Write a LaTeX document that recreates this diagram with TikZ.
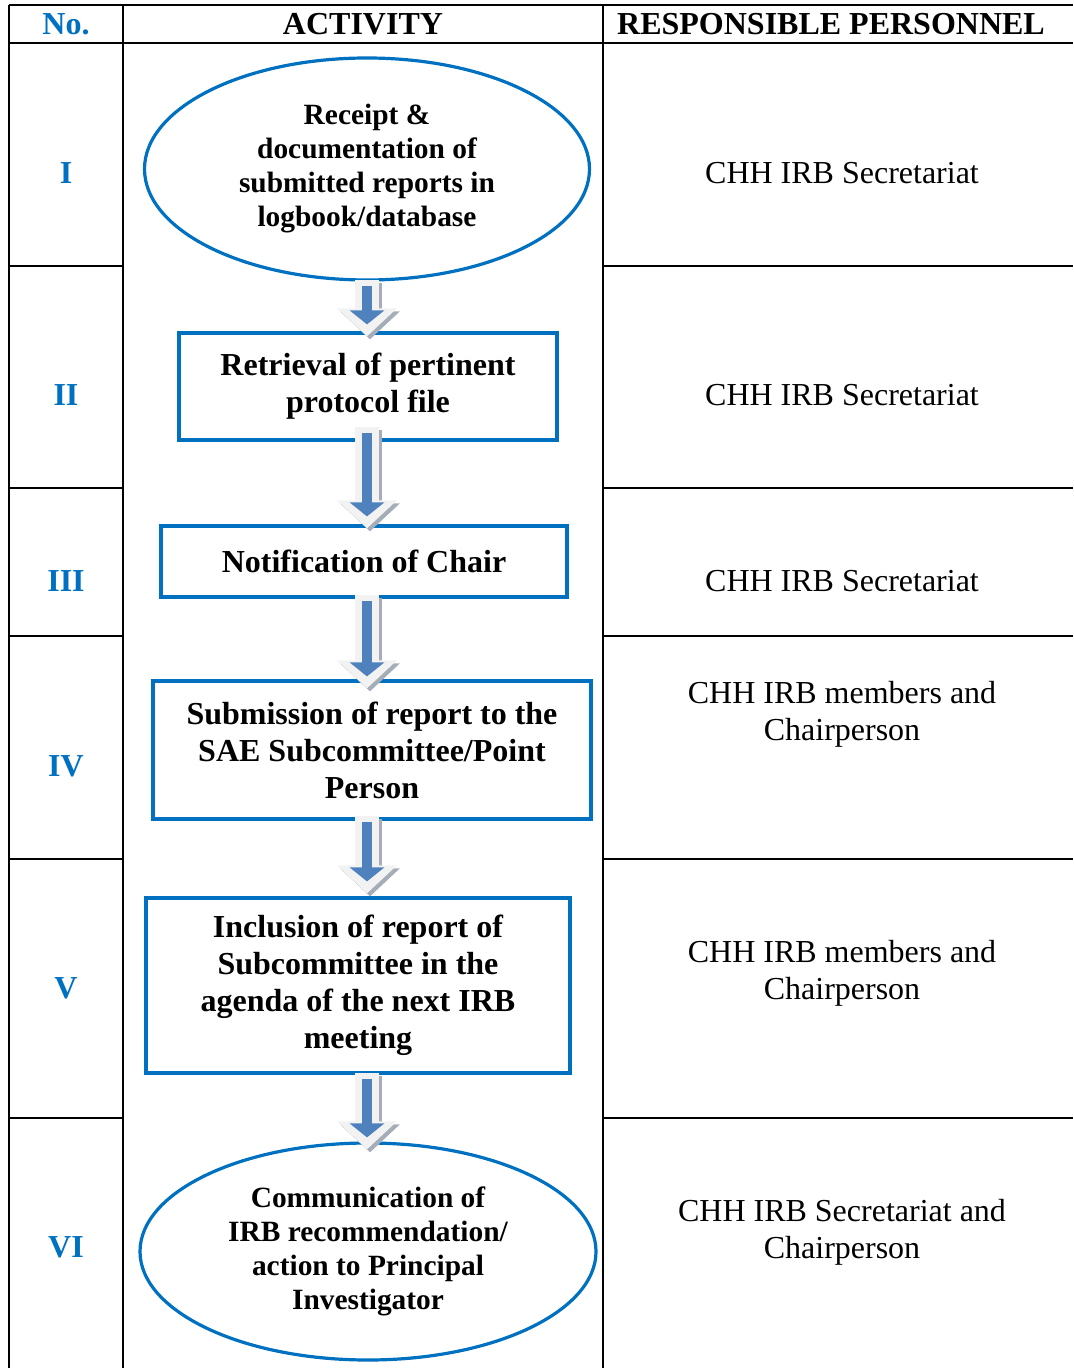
\documentclass[tikz,border=0pt]{standalone}
\usepackage{fontspec}
\setmainfont{Liberation Serif}
\usetikzlibrary{arrows.meta,shapes.geometric,calc}

\definecolor{flowblue}{HTML}{0070C0}
\definecolor{barblue}{HTML}{4F81BD}
\definecolor{arrowfill}{HTML}{F2F2F2}
\definecolor{arrowshade}{HTML}{A5ADB8}

\newcommand{\flowarrow}[2]{%
  \draw [arrowshadow] ($(#1)+(3,3)$) -- ($(#2)+(3,3)$);
  \draw [arrowbody] (#1) -- (#2);
  \draw [arrowcore] ($(#1)+(0,6)$) -- ($(#2)+(0,-12)$);}

\begin{document}
\begin{tikzpicture}[x=0.5pt, y=-0.5pt,
    grid/.style={line width=1.2pt, black},
    stepbox/.style={draw=flowblue, line width=1.6pt, inner sep=0pt, align=center,
      font=\bfseries\fontsize{16}{18.5}\selectfont},
    stepoval/.style={stepbox, ellipse, font=\bfseries\fontsize{14.7}{17}\selectfont},
    rowno/.style={text=flowblue, font=\bfseries\fontsize{16}{18.5}\selectfont},
    header/.style={font=\bfseries\fontsize{16}{18.5}\selectfont},
    person/.style={align=center, font=\fontsize{16}{18.5}\selectfont},
    arrowshadow/.style={line width=12pt, arrowshade, -{Triangle[width=29pt, length=14pt]}},
    arrowbody/.style={line width=12pt, arrowfill, -{Triangle[width=29pt, length=14pt]}},
    arrowcore/.style={line width=5pt, barblue, -{Triangle[width=17pt, length=7pt]}}]
  \useasboundingbox (0,0) rectangle (1073,1368);

  \draw [grid] (9,5) -- (1073,5);
  \draw [grid] (9,43) -- (1073,43);
  \draw [grid] (9,5) -- (9,1368);
  \draw [grid] (123,5) -- (123,1368);
  \draw [grid] (603,5) -- (603,1368);
  \foreach \y in {266, 488, 636, 859, 1118} {
    \draw [grid] (9,\y) -- (123,\y);
    \draw [grid] (603,\y) -- (1073,\y);
  }

  \node [header, text=flowblue] (hno) at (66,24) {No.};
  \node [header] (hact) at (363,24) {ACTIVITY};
  \node [header] (hresp) at (831,24) {RESPONSIBLE PERSONNEL};

  \node [rowno] (n1) at (66,173) {I};
  \node [rowno] (n2) at (66,395) {II};
  \node [rowno] (n3) at (66,581) {III};
  \node [rowno] (n4) at (66,766) {IV};
  \node [rowno] (n5) at (66,988) {V};
  \node [rowno] (n6) at (66,1247) {VI};

  \node [stepoval, minimum width=222.5pt, minimum height=111pt] (e1) at (367,169) {%
    Receipt \&\\ documentation of\\ submitted reports in\\ logbook/database};
  \node [stepbox, minimum width=189pt, minimum height=53.5pt] (b2) at (368,386.5) {%
    Retrieval of pertinent\\ protocol file};
  \node [stepbox, minimum width=203pt, minimum height=35.5pt] (b3) at (364,561.5) {%
    Notification of Chair};
  \node [stepbox, minimum width=219pt, minimum height=69pt] (b4) at (372,750) {%
    Submission of report to the\\ SAE Subcommittee/Point\\ Person};
  \node [stepbox, minimum width=212pt, minimum height=87.5pt] (b5) at (358,985.5) {%
    Inclusion of report of\\ Subcommittee in the\\ agenda of the next IRB\\ meeting};
  \node [stepoval, minimum width=228pt, minimum height=108.5pt] (e6) at (368,1251.5) {%
    Communication of\\ IRB recommendation/\\ action to Principal\\ Investigator};

  \node [person] (p1) at (842,173) {CHH IRB Secretariat};
  \node [person] (p2) at (842,395) {CHH IRB Secretariat};
  \node [person] (p3) at (842,581) {CHH IRB Secretariat};
  \node [person] (p4) at (842,714) {CHH IRB members and\\ Chairperson};
  \node [person] (p5) at (842,973) {CHH IRB members and\\ Chairperson};
  \node [person] (p6) at (842,1232) {CHH IRB Secretariat and\\ Chairperson};

  \coordinate (a1s) at ($(e1.south)+(0,-2)$);
  \coordinate (a1e) at ($(b2.north -| e1.south)+(0,5)$);
  \coordinate (a2s) at ($(b2.south -| e1.south)+(0,-15)$);
  \coordinate (a2e) at ($(b3.north -| e1.south)+(0,4)$);
  \coordinate (a3s) at ($(b3.south -| e1.south)+(0,-4)$);
  \coordinate (a3e) at ($(b4.north -| e1.south)+(0,9)$);
  \coordinate (a4s) at ($(b4.south -| e1.south)+(0,-5)$);
  \coordinate (a4e) at ($(b5.north -| e1.south)+(0,-3)$);
  \coordinate (a5s) at ($(b5.south -| e1.south)+(0,-2)$);
  \coordinate (a5e) at ($(e6.north -| e1.south)+(0,8)$);
  \flowarrow{a1s}{a1e}
  \flowarrow{a2s}{a2e}
  \flowarrow{a3s}{a3e}
  \flowarrow{a4s}{a4e}
  \flowarrow{a5s}{a5e}
\end{tikzpicture}
\end{document}
